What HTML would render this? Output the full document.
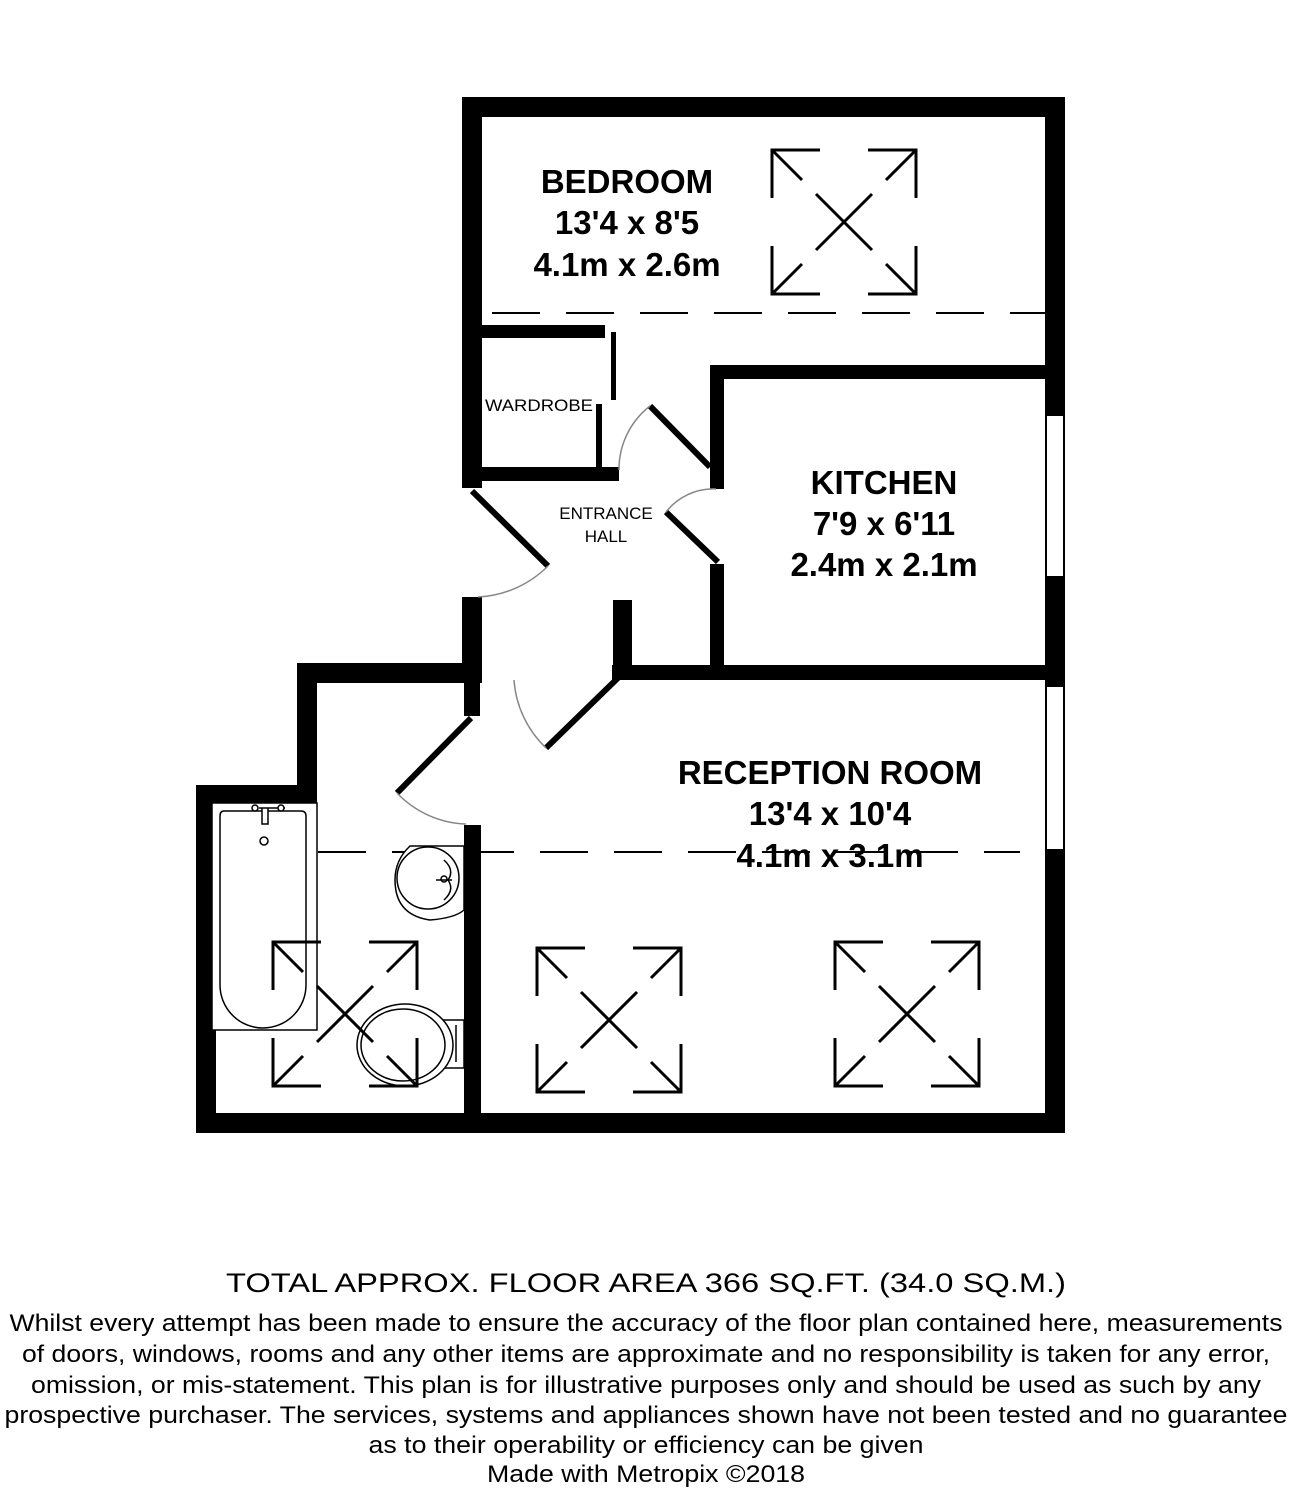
<!DOCTYPE html>
<html><head><meta charset="utf-8"><style>
html,body{margin:0;padding:0;background:#fff}
svg{display:block}
text{font-family:"Liberation Sans",Arial,sans-serif;fill:#000}
</style></head><body>
<svg width="1291" height="1500" viewBox="0 0 1291 1500" xmlns="http://www.w3.org/2000/svg">
<defs>
<g id="sky" fill="none" stroke="#000" stroke-width="3">
<path d="M0 48V0H48M96 0H144V48M0 96V144H48M96 144H144V96M0 0L30 30M144 0L114 30M0 144L30 114M144 144L114 114M44 44L100 100M100 44L44 100"/>
</g>
</defs>
<g stroke="#000" stroke-width="2" stroke-dasharray="48,26" fill="none">
<line x1="492" y1="313" x2="1045" y2="313"/>
<line x1="318" y1="852" x2="1020" y2="852"/>
</g>
<g fill="#000">
<rect x="462" y="97" width="603" height="20"/>
<rect x="1045" y="97" width="20" height="318"/>
<rect x="1045" y="577" width="20" height="109"/>
<rect x="1045" y="850" width="20" height="283"/>
<rect x="462" y="97" width="20" height="391"/>
<rect x="482" y="325" width="123" height="13"/>
<rect x="611" y="332" width="5" height="68"/>
<rect x="596" y="404" width="6" height="64"/>
<rect x="482" y="467" width="137" height="14"/>
<rect x="710" y="365" width="335" height="14"/>
<rect x="710" y="365" width="14" height="124"/>
<rect x="710" y="564" width="14" height="106"/>
<rect x="612" y="665" width="433" height="15"/>
<rect x="613" y="600" width="19" height="70"/>
<rect x="462" y="597" width="20" height="86"/>
<rect x="297" y="663" width="185" height="20"/>
<rect x="464" y="683" width="16" height="33"/>
<rect x="297" y="663" width="20" height="142"/>
<rect x="196" y="785" width="121" height="20"/>
<rect x="196" y="785" width="20" height="348"/>
<rect x="464" y="825" width="17" height="300"/>
<rect x="196" y="1113" width="869" height="20"/>
</g>
<g fill="#fff" stroke="#000" stroke-width="2">
<rect x="1046" y="415" width="18" height="162"/>
<rect x="1046" y="686" width="18" height="164"/>
</g>
<g stroke="#000" stroke-width="6" stroke-linecap="butt">
<line x1="472" y1="491" x2="548" y2="566"/>
<line x1="666" y1="512" x2="718" y2="562"/>
<line x1="650" y1="406" x2="710" y2="467"/>
<line x1="622" y1="674" x2="546" y2="748"/>
<line x1="471" y1="718" x2="397" y2="793"/>
</g>
<g stroke="#888" stroke-width="1.5" fill="none">
<path d="M548 566 A106 106 0 0 1 478 597"/>
<path d="M666 512 A60 60 0 0 1 716 489"/>
<path d="M650 406 A80 80 0 0 0 619 470"/>
<path d="M546 748 A104 104 0 0 1 514 680"/>
<path d="M397 793 A100 100 0 0 0 466 824"/>
</g>
<use href="#sky" transform="translate(772,150)"/>
<use href="#sky" transform="translate(537,948)"/>
<use href="#sky" transform="translate(835,942)"/>
<g fill="#fff" stroke="#000" stroke-width="1.5">
<rect x="212" y="803" width="105" height="227"/>
<path d="M224 811 Q220 811 220 816 V985 A43 43 0 0 0 306 985 V816 Q306 811 301 811 Z"/>
<path d="M259 808 h26 M262 808 v16 h6 v-16" />
<circle cx="264" cy="841" r="4"/>
<circle cx="255" cy="808" r="3"/><circle cx="281" cy="808" r="3"/>
<path d="M464 846 L410 846 Q395 860 395 880 Q395 915 430 920 Q455 918 464 910 Z"/>
<circle cx="428" cy="878" r="31"/>
<path d="M444 860 Q455 870 448 880 Q455 890 444 900"/>
<circle cx="444" cy="879" r="3"/>
<line x1="436" y1="880" x2="452" y2="880"/>
<rect x="428" y="1020" width="36" height="48"/>
<ellipse cx="405" cy="1045" rx="48" ry="41"/>
<ellipse cx="403" cy="1045" rx="42" ry="36"/>
<line x1="456" y1="1025" x2="456" y2="1062"/>
</g>
<use href="#sky" transform="translate(273,942)"/>
<g font-weight="bold" font-size="33" text-anchor="middle">
<text x="627" y="193">BEDROOM</text>
<text x="627" y="234">13'4 x 8'5</text>
<text x="627" y="276">4.1m x 2.6m</text>
<text x="884" y="494">KITCHEN</text>
<text x="884" y="535">7'9 x 6'11</text>
<text x="884" y="576">2.4m x 2.1m</text>
<text x="830" y="784">RECEPTION ROOM</text>
<text x="830" y="825">13'4 x 10'4</text>
<text x="830" y="867">4.1m x 3.1m</text>
</g>
<g font-size="17" text-anchor="middle">
<text x="539" y="411" textLength="108" lengthAdjust="spacingAndGlyphs">WARDROBE</text>
<text x="606" y="519">ENTRANCE</text>
<text x="606" y="542">HALL</text>
</g>
<text x="646" y="1292" font-size="27" text-anchor="middle" textLength="840" lengthAdjust="spacingAndGlyphs">TOTAL APPROX. FLOOR AREA 366 SQ.FT. (34.0 SQ.M.)</text>
<g font-size="24" text-anchor="middle">
<text x="646" y="1331" textLength="1273" lengthAdjust="spacingAndGlyphs">Whilst every attempt has been made to ensure the accuracy of the floor plan contained here, measurements</text>
<text x="646" y="1362" textLength="1248" lengthAdjust="spacingAndGlyphs">of doors, windows, rooms and any other items are approximate and no responsibility is taken for any error,</text>
<text x="646" y="1393" textLength="1230" lengthAdjust="spacingAndGlyphs">omission, or mis-statement. This plan is for illustrative purposes only and should be used as such by any</text>
<text x="646" y="1423" textLength="1283" lengthAdjust="spacingAndGlyphs">prospective purchaser. The services, systems and appliances shown have not been tested and no guarantee</text>
<text x="646" y="1453" textLength="555" lengthAdjust="spacingAndGlyphs">as to their operability or efficiency can be given</text>
<text x="646" y="1482" textLength="318" lengthAdjust="spacingAndGlyphs">Made with Metropix ©2018</text>
</g>
</svg>
</body></html>
